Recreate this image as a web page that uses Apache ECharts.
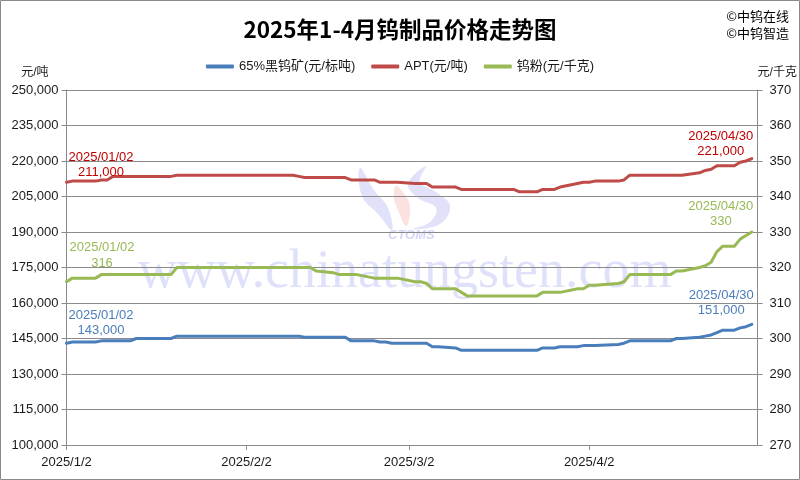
<!DOCTYPE html>
<html>
<head>
<meta charset="utf-8">
<script src="https://cdn.jsdelivr.net/npm/echarts@6/dist/echarts.min.js"></script>
<style>
html,body{margin:0;padding:0;background:#fff;}
#chart{width:800px;height:480px;}
</style>
</head>
<body>
<div id="chart"></div>
<script>
// ---------- data ----------
const dates = [
 '2025-01-02','2025-01-03','2025-01-06','2025-01-07','2025-01-08','2025-01-09','2025-01-10','2025-01-13','2025-01-14','2025-01-15','2025-01-16','2025-01-17','2025-01-20','2025-01-21','2025-01-22','2025-01-23','2025-01-24','2025-01-26','2025-01-27',
 '2025-02-05','2025-02-06','2025-02-07','2025-02-08','2025-02-10','2025-02-11','2025-02-12','2025-02-13','2025-02-14','2025-02-17','2025-02-18','2025-02-19','2025-02-20','2025-02-21','2025-02-24','2025-02-25','2025-02-26','2025-02-27','2025-02-28',
 '2025-03-03','2025-03-04','2025-03-05','2025-03-06','2025-03-07','2025-03-10','2025-03-11','2025-03-12','2025-03-13','2025-03-14','2025-03-17','2025-03-18','2025-03-19','2025-03-20','2025-03-21','2025-03-24','2025-03-25','2025-03-26','2025-03-27','2025-03-28','2025-03-31',
 '2025-04-01','2025-04-02','2025-04-03','2025-04-07','2025-04-08','2025-04-09','2025-04-10','2025-04-11','2025-04-14','2025-04-15','2025-04-16','2025-04-17','2025-04-18','2025-04-21','2025-04-22','2025-04-23','2025-04-24','2025-04-25','2025-04-27','2025-04-28','2025-04-29','2025-04-30'
];
// 65%黑钨矿 (元/标吨)
const wolframite = [
 143000,143500,143500,143500,144000,144000,144000,144000,145000,145000,145000,145000,145000,146000,146000,146000,146000,146000,146000,
 146000,146000,146000,146000,146000,146000,145500,145500,145500,145500,145500,145500,144000,144000,144000,143500,143500,143000,143000,
 143000,143000,143000,141500,141500,141000,140000,140000,140000,140000,140000,140000,140000,140000,140000,140000,141000,141000,141000,141500,141500,
 142000,142000,142000,142500,143000,144000,144000,144000,144000,144000,144000,145000,145000,145500,146000,146500,147500,148500,148500,149500,150000,151000
];
// APT (元/吨)
const apt = [
 211000,211500,211500,211500,212000,212000,213500,213500,213500,213500,213500,213500,213500,214000,214000,214000,214000,214000,214000,
 214000,214000,214000,214000,214000,213500,213000,213000,213000,213000,213000,213000,212000,212000,212000,211000,211000,211000,211000,
 210500,210500,210500,209000,209000,209000,208000,208000,208000,208000,208000,208000,208000,208000,207000,207000,208000,208000,208000,209000,210500,
 211000,211000,211500,211500,212000,214000,214000,214000,214000,214000,214000,214000,214000,215000,216000,216500,218000,218000,218000,219500,220000,221000
];
// 钨粉 (元/千克)
const powder = [
 316,317,317,317,318,318,318,318,318,318,318,318,318,320,320,320,320,320,320,
 320,320,320,320,320,320,320,320,319,318.5,318,318,318,318,317,317,317,317,317,
 316,316,315.5,314,314,314,313,312,312,312,312,312,312,312,312,312,313,313,313,313,314,
 314,315,315,315.5,316,318,318,318,318,318,318,319,319,320,320.5,321.5,324.5,326,326,328,329,330
];
const seriesNames = ['65%黑钨矿(元/标吨)', 'APT(元/吨)', '钨粉(元/千克)'];
const xLabelDates = ['2025-01-02','2025-02-02','2025-03-02','2025-04-02'];
const xRange = ['2025-01-02','2025-05-01'];

// ---------- helpers ----------
function ts(s){ const p = s.split('-').map(Number); return new Date(p[0], p[1]-1, p[2]).getTime(); }
function pairs(vals){ return dates.map((d,i)=>[ts(d), vals[i]]); }
function fmtNum(v){ return Number(v).toLocaleString('en-US'); }
function fmtDate(s){ return s.replace(/-/g,'/'); }
const lastIdx = dates.length - 1;
const CJK = 'Liberation Sans, Noto Sans CJK SC, sans-serif';

function ends(vals, color, offFirst, offLast){
  return {
    symbol: 'circle', symbolSize: 1, silent: true,
    itemStyle: { color: 'transparent' },
    label: { show: true, position: 'inside', color: color, fontSize: 13, lineHeight: 15.5,
             fontFamily: 'Liberation Sans', formatter: p => p.name + '\n' + p.data.txt },
    data: [
      { name: fmtDate(dates[0]), txt: fmtNum(vals[0]), coord: [ts(dates[0]), vals[0]], label: { offset: offFirst } },
      { name: fmtDate(dates[lastIdx]), txt: fmtNum(vals[lastIdx]), coord: [ts(dates[lastIdx]), vals[lastIdx]], label: { offset: offLast } }
    ]
  };
}

const gridColor = '#8a8a8a';
const textColor = '#1a1a1a';
const wmBlue = 'rgba(120,125,230,0.22)';

const chart = echarts.init(document.getElementById('chart'));
chart.setOption({
  animation: false,
  backgroundColor: '#fff',
  title: {
    text: '2025年1-4月钨制品价格走势图', left: 'center', top: 13,
    textStyle: { fontSize: 22.5, fontWeight: 'bold', color: '#000', fontFamily: 'Noto Sans CJK SC' }
  },
  legend: {
    top: 55, left: 'center', itemWidth: 28, itemHeight: 4, itemGap: 16, icon: 'roundRect',
    textStyle: { fontSize: 13, color: textColor, fontFamily: CJK },
    data: seriesNames
  },
  grid: { left: 66.5, right: 42.4, top: 90, bottom: 35, containLabel: false },
  xAxis: {
    type: 'value', min: ts(xRange[0]), max: ts(xRange[1]),
    axisLine: { show: true, lineStyle: { color: gridColor, width: 1 } },
    axisTick: { show: true, length: 5, customValues: xLabelDates.map(ts), lineStyle: { color: gridColor } },
    axisLabel: { customValues: xLabelDates.map(ts), margin: 11, fontSize: 13, color: textColor, fontFamily: 'Liberation Sans',
      formatter: v => { const d = new Date(v); return d.getFullYear() + '/' + (d.getMonth()+1) + '/' + d.getDate(); } },
    splitLine: { show: false }
  },
  yAxis: [
    { type: 'value', min: 100000, max: 250000, interval: 15000,
      name: '元/吨', nameLocation: 'end', nameGap: 11,
      nameTextStyle: { fontSize: 12, color: textColor, fontFamily: CJK, align: 'right', padding: [0, 18, 0, 0] },
      axisLine: { show: true, lineStyle: { color: gridColor } },
      axisTick: { show: true, length: 5, lineStyle: { color: gridColor } },
      axisLabel: { margin: 8, fontSize: 13, color: textColor, fontFamily: 'Liberation Sans', formatter: v => fmtNum(v) },
      splitLine: { show: true, lineStyle: { color: gridColor, width: 1 } } },
    { type: 'value', min: 270, max: 370, interval: 10,
      name: '元/千克', nameLocation: 'end', nameGap: 11,
      nameTextStyle: { fontSize: 12, color: textColor, fontFamily: CJK, align: 'left', padding: [0, 0, 0, 0] },
      axisLine: { show: true, lineStyle: { color: gridColor } },
      axisTick: { show: true, length: 5, lineStyle: { color: gridColor } },
      axisLabel: { margin: 12, fontSize: 13, color: textColor, fontFamily: 'Liberation Sans' },
      splitLine: { show: false } }
  ],
  graphic: [
    { type: 'rect', silent: true, z: 100, shape: { x: 0.5, y: 0.5, width: 799, height: 479 },
      style: { fill: 'none', stroke: '#8a8a8a', lineWidth: 1 } },
    { type: 'text', silent: true, z: -1, x: 138, y: 246,
      style: { text: 'www.chinatungsten.com', font: '54px "Liberation Serif"', fill: 'rgba(110,120,235,0.22)' } },
    { type: 'polygon', silent: true, z: -1,
      shape: { points: [[360,168],[374,190],[388,208],[392,230],[378,214],[362,196]], smooth: 0.4 },
      style: { fill: wmBlue } },
    { type: 'polygon', silent: true, z: -1,
      shape: { points: [[426,166],[408,184],[418,198],[436,208],[430,222],[412,229],[440,224],[450,206],[436,192],[420,182]], smooth: 0.4 },
      style: { fill: wmBlue } },
    { type: 'polygon', silent: true, z: -1,
      shape: { points: [[396,186],[408,200],[410,214],[406,226],[398,210],[394,198]], smooth: 0.4 },
      style: { fill: 'rgba(240,120,120,0.22)' } },
    { type: 'text', silent: true, z: -1, x: 388, y: 229,
      style: { text: 'CTOMS', font: 'italic bold 13px "Liberation Sans"', fill: 'rgba(110,120,235,0.3)' } },
    { type: 'text', silent: true, right: 11, top: 10,
      style: { text: '©中钨在线', font: '13px "Noto Sans CJK SC"', fill: '#000' } },
    { type: 'text', silent: true, right: 11, top: 27,
      style: { text: '©中钨智造', font: '13px "Noto Sans CJK SC"', fill: '#000' } }
  ],
  series: [
    { name: seriesNames[0], type: 'line', yAxisIndex: 0, showSymbol: false, symbol: 'none', color: '#4A7EBB',
      lineStyle: { width: 3, cap: 'round', join: 'round' }, data: pairs(wolframite),
      markPoint: ends(wolframite, '#4A7EBB', [34.5, -20.3], [-30.6, -21.5]) },
    { name: seriesNames[1], type: 'line', yAxisIndex: 0, showSymbol: false, symbol: 'none', color: '#BE4B48',
      lineStyle: { width: 3, cap: 'round', join: 'round' }, data: pairs(apt),
      markPoint: ends(apt, '#C00000', [34.5, -17.5], [-31, -14.5]) },
    { name: seriesNames[2], type: 'line', yAxisIndex: 1, showSymbol: false, symbol: 'none', color: '#98B954',
      lineStyle: { width: 3, cap: 'round', join: 'round' }, data: pairs(powder),
      markPoint: ends(powder, '#98B954', [35.5, -26.4], [-31, -18.3]) }
  ]
});
</script>
</body>
</html>
